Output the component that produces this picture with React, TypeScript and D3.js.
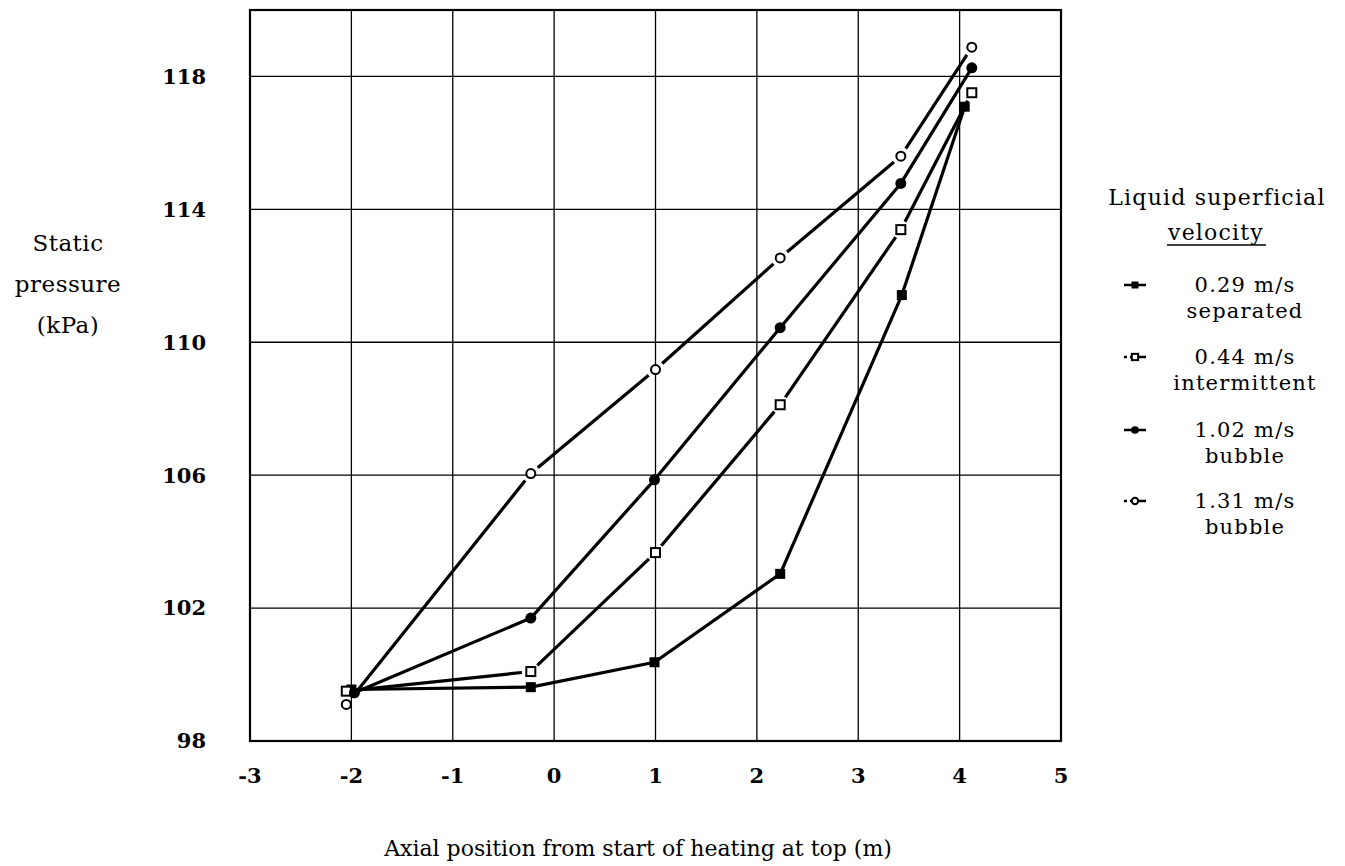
import * as d3 from "d3";

// axial position (m) and static pressure (kPa) for each flow
const sepX = [-2.0, -0.23, 0.99, 2.23, 3.43, 4.05];
const sepP = [99.55, 99.62, 100.37, 103.03, 111.42, 117.09];
const intX = [-2.05, -0.23, 1.0, 2.23, 3.42, 4.12];
const intP = [99.5, 100.09, 103.67, 108.12, 113.39, 117.51];
const bub1X = [-1.97, -0.23, 0.99, 2.23, 3.42, 4.12];
const bub1P = [99.45, 101.7, 105.86, 110.44, 114.78, 118.26];
const bub2X = [-2.05, -0.23, 1.0, 2.23, 3.42, 4.12];
const bub2P = [99.1, 106.05, 109.18, 112.54, 115.6, 118.88];

const xTicks = [-3, -2, -1, 0, 1, 2, 3, 4, 5];
const yTicks = [98, 102, 106, 110, 114, 118];

const legendTitle = ["Liquid superficial", "velocity"];
const seriesNames = [
  ["0.29 m/s", "separated"],
  ["0.44 m/s", "intermittent"],
  ["1.02 m/s", "bubble"],
  ["1.31 m/s", "bubble"],
];

const series = [
  { xs: sepX, ys: sepP, shape: "square", filled: true },
  { xs: intX, ys: intP, shape: "square", filled: false },
  { xs: bub1X, ys: bub1P, shape: "circle", filled: true },
  { xs: bub2X, ys: bub2P, shape: "circle", filled: false },
];

const W = 1345;
const H = 866;
const left = 250;
const right = 1061;
const top = 10;
const bottom = 741;
const font = "'DejaVu Serif', serif";

function Marker({ cx, cy, shape, filled, size }) {
  if (shape === "circle") {
    return (
      <circle
        cx={cx}
        cy={cy}
        r={filled ? size * 0.55 : size * 0.45}
        fill={filled ? "#000" : "#fff"}
        stroke="#000"
        strokeWidth={filled ? 0 : 2}
      />
    );
  }
  const s = filled ? size : size * 0.9;
  return (
    <rect
      x={cx - s / 2}
      y={cy - s / 2}
      width={s}
      height={s}
      fill={filled ? "#000" : "#fff"}
      stroke="#000"
      strokeWidth={filled ? 0 : 2}
    />
  );
}

export default function App() {
  const x = d3.scaleLinear().domain([-3, 5]).range([left, right]);
  const y = d3.scaleLinear().domain([98, 120]).range([bottom, top]);

  // segments, cut short near the open markers like the original plot
  const segments = (s) => {
    const out = [];
    const gap = 9;
    for (let i = 0; i < s.xs.length - 1; i++) {
      let x1 = x(s.xs[i]), y1 = y(s.ys[i]);
      let x2 = x(s.xs[i + 1]), y2 = y(s.ys[i + 1]);
      const len = Math.hypot(x2 - x1, y2 - y1);
      const ux = (x2 - x1) / len, uy = (y2 - y1) / len;
      if (!s.filled) {
        x1 += ux * gap; y1 += uy * gap;
        x2 -= ux * gap; y2 -= uy * gap;
      }
      out.push([x1, y1, x2, y2]);
    }
    return out;
  };

  const legendY = [285, 357, 430, 501];

  return (
    <svg
      width={W}
      height={H}
      style={{ position: "absolute", left: 0, top: 0, background: "#fff" }}
    >
      <rect x={0} y={0} width={W} height={H} fill="#fff" />
      {/* grid */}
      {xTicks.map((t) => (
        <line key={"gx" + t} x1={x(t)} x2={x(t)} y1={top} y2={bottom} stroke="#000" strokeWidth={1.3} />
      ))}
      {yTicks.map((t) => (
        <line key={"gy" + t} x1={left} x2={right} y1={y(t)} y2={y(t)} stroke="#000" strokeWidth={1.3} />
      ))}
      <rect x={left} y={top} width={right - left} height={bottom - top} fill="none" stroke="#000" strokeWidth={2.2} />

      {/* tick labels */}
      {yTicks.map((t) => (
        <text key={"ty" + t} x={206} y={y(t)} dy="0.35em" textAnchor="end" fontFamily={font} fontWeight="bold" fontSize={21}>
          {t}
        </text>
      ))}
      {xTicks.map((t) => (
        <text key={"tx" + t} x={x(t)} y={783} textAnchor="middle" fontFamily={font} fontWeight="bold" fontSize={21}>
          {t < 0 ? "-" + Math.abs(t) : t}
        </text>
      ))}

      {/* axis titles */}
      {["Static", "pressure", "(kPa)"].map((s, i) => (
        <text key={s} x={68} y={251 + i * 41} textAnchor="middle" fontFamily={font} fontSize={23} letterSpacing={0.5}>
          {s}
        </text>
      ))}
      <text x={638} y={856} textAnchor="middle" fontFamily={font} fontSize={22}>
        Axial position from start of heating at top (m)
      </text>

      {/* series */}
      {series.map((s, si) => (
        <g key={"s" + si}>
          {segments(s).map((seg, i) => (
            <line key={i} x1={seg[0]} y1={seg[1]} x2={seg[2]} y2={seg[3]} stroke="#000" strokeWidth={3.2} />
          ))}
          {s.xs.map((v, i) => (
            <Marker key={i} cx={x(v)} cy={y(s.ys[i])} shape={s.shape} filled={s.filled} size={10} />
          ))}
        </g>
      ))}

      {/* legend */}
      <text x={1217} y={205} textAnchor="middle" fontFamily={font} fontSize={22} letterSpacing={1.2}>
        {legendTitle[0]}
      </text>
      <text x={1216} y={240} textAnchor="middle" fontFamily={font} fontSize={22} letterSpacing={1.2}>
        {legendTitle[1]}
      </text>
      <line x1={1167} x2={1266} y1={245} y2={245} stroke="#000" strokeWidth={1.5} />
      {series.map((s, i) => (
        <g key={"l" + i}>
          <line x1={1124} x2={1146} y1={legendY[i]} y2={legendY[i]} stroke="#000" strokeWidth={2.5} strokeDasharray={s.filled ? "none" : "3,3,16"} />
          <Marker cx={1135} cy={legendY[i]} shape={s.shape} filled={s.filled} size={7} />
          <text x={1245} y={legendY[i] + 7} textAnchor="middle" fontFamily={font} fontSize={21} letterSpacing={1.2}>
            {seriesNames[i][0]}
          </text>
          <text x={1245} y={legendY[i] + 33} textAnchor="middle" fontFamily={font} fontSize={21} letterSpacing={1.2}>
            {seriesNames[i][1]}
          </text>
        </g>
      ))}
    </svg>
  );
}
